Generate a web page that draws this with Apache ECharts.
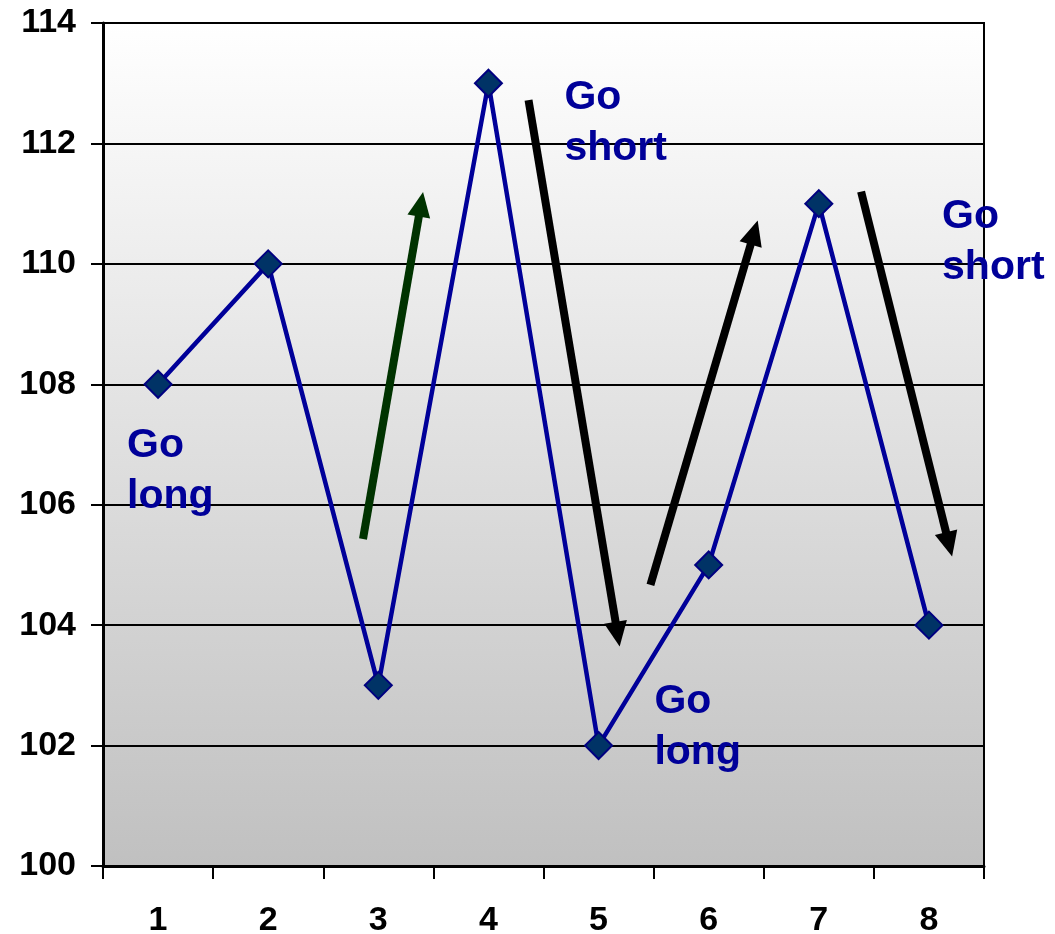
<!DOCTYPE html>
<html>
<head>
<meta charset="utf-8">
<script src="https://cdn.jsdelivr.net/npm/echarts@6/dist/echarts.min.js"></script>
<style>html,body{margin:0;padding:0;background:#fff}#c{width:1055px;height:934px}</style>
</head>
<body>
<div id="c"></div>
<script>
const categories = ['1','2','3','4','5','6','7','8'];
const prices = [108, 110, 103, 113, 102, 105, 111, 104];
const yTicks = [100, 102, 104, 106, 108, 110, 112, 114];
// arrows in axis units (x: category position 1..8)
const arrowTails = [[2.861, 105.43], [4.364, 112.72], [5.471, 104.67], [7.384, 111.20]];
const arrowHeads = [[3.387, 110.99], [5.173, 103.85], [6.413, 110.52], [8.183, 105.34]];
const arrowColors = ['#003300', '#000000', '#000000', '#000000'];
// annotation texts (top-left anchored)
const noteTexts = ['Go\nlong', 'Go\nshort', 'Go\nshort', 'Go\nlong'];
const notePos = [[0.718, 107.40], [4.69, 113.19], [8.119, 111.20], [5.507, 103.16]];

const FONT = "'Liberation Sans', Arial, sans-serif";
const chart = echarts.init(document.getElementById('c'));

const arrowData = arrowTails.map((t, i) => [
  { coord: t, lineStyle: { color: arrowColors[i], width: 8, type: 'solid', opacity: 1 }, itemStyle: { color: arrowColors[i] } },
  { coord: arrowHeads[i], itemStyle: { color: arrowColors[i] } }
]);

chart.setOption({
  animation: false,
  grid: {
    left: 103, right: 71, top: 23, bottom: 68,
    outerBoundsMode: 'none',
    containLabel: false,
    show: true,
    borderColor: '#000', borderWidth: 2,
    backgroundColor: new echarts.graphic.LinearGradient(0, 0, 0, 1, [
      { offset: 0, color: '#ffffff' },
      { offset: 1, color: '#c0c0c0' }
    ])
  },
  xAxis: [{
    type: 'category',
    data: categories,
    boundaryGap: true,
    axisLine: { lineStyle: { color: '#000', width: 3 } },
    axisTick: { show: true, length: 13, lineStyle: { color: '#000', width: 2 } },
    axisLabel: { color: '#000', fontSize: 34, lineHeight: 34, fontWeight: 'bold', fontFamily: FONT, margin: 38 },
    splitLine: { show: false }
  }, {
    type: 'value', min: 0.5, max: 8.5, show: false
  }],
  yAxis: {
    type: 'value', min: yTicks[0], max: yTicks[yTicks.length - 1], interval: 2,
    axisLine: { show: true, lineStyle: { color: '#000', width: 3 } },
    axisTick: { show: true, length: 12, lineStyle: { color: '#000', width: 2 } },
    axisLabel: { color: '#000', fontSize: 34, fontWeight: 'bold', fontFamily: FONT, margin: 27 },
    splitLine: { show: true, lineStyle: { color: '#000', width: 2 } }
  },
  series: [{
    type: 'line',
    data: prices,
    lineStyle: { color: '#000099', width: 4.5 },
    symbol: 'diamond',
    symbolSize: 27,
    itemStyle: { color: '#003366', borderColor: '#000080', borderWidth: 2 },
    z: 3
  }, {
    type: 'scatter',
    xAxisIndex: 1,
    clip: false,
    symbolSize: 0,
    itemStyle: { color: '#000099', opacity: 1 },
    data: notePos.map((p, i) => ({ value: p, name: noteTexts[i] })),
    label: {
      show: true, position: 'inside', align: 'left', verticalAlign: 'top',
      formatter: p => p.name,
      color: '#000099', opacity: 1, textBorderWidth: 0, textBorderColor: 'transparent',
      fontSize: 41, fontWeight: 'bold', fontFamily: FONT, lineHeight: 51
    },
    markLine: {
      silent: true,
      symbol: ['none', 'triangle'],
      symbolSize: [23, 25],
      label: { show: false },
      emphasis: { disabled: true },
      data: arrowData
    },
    z: 4
  }]
});
</script>
</body>
</html>
